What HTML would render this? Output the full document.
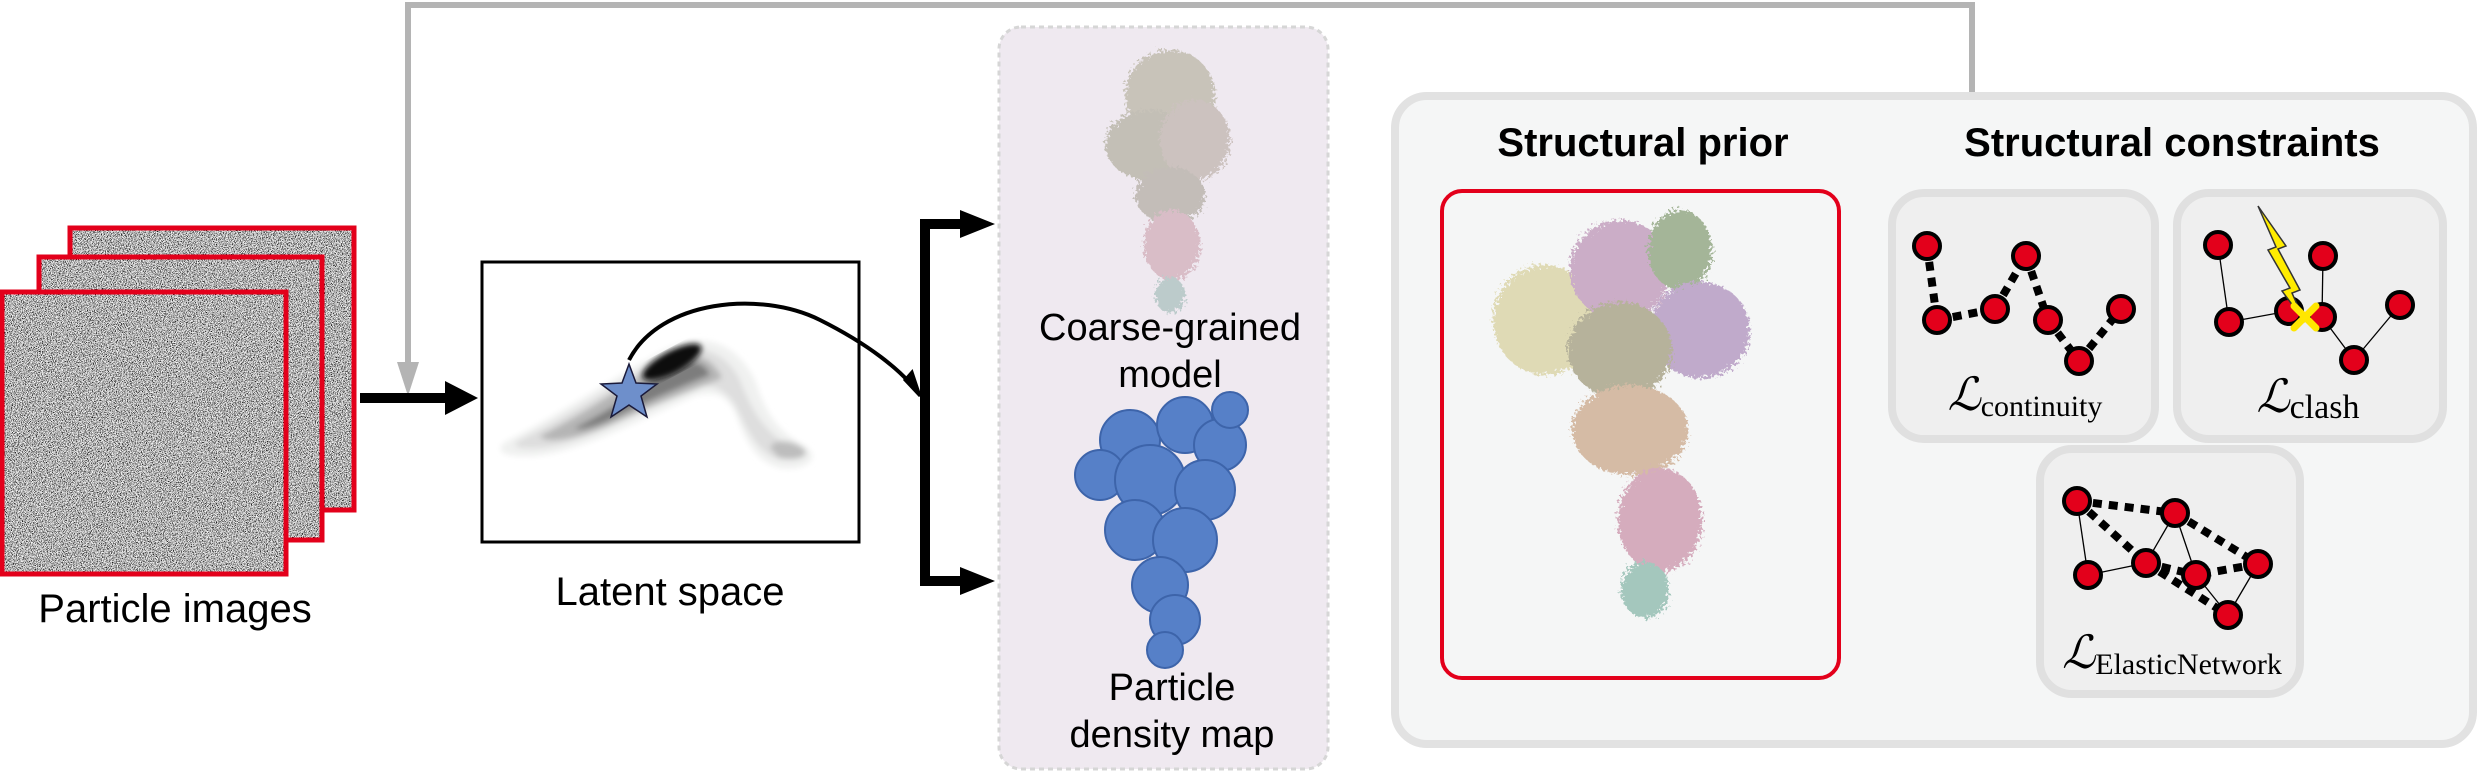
<!DOCTYPE html>
<html><head><meta charset="utf-8"><style>
html,body{margin:0;padding:0;background:#fff;}
svg{display:block;}
.sans{font-family:"Liberation Sans",Arial,sans-serif;}
.serif{font-family:"Liberation Serif","DejaVu Serif",serif;}
</style></head><body>
<svg id="fig" width="2479" height="772" viewBox="0 0 2479 772" xmlns="http://www.w3.org/2000/svg">
<defs>
<filter id="noise" x="0" y="0" width="100%" height="100%">
<feTurbulence type="fractalNoise" baseFrequency="1.2" numOctaves="2" seed="3"/>
<feColorMatrix type="matrix" values="1 0 0 0 0  1 0 0 0 0  1 0 0 0 0  0 0 0 0 1"/>
<feComponentTransfer><feFuncR type="linear" slope="3.2" intercept="-1.08"/><feFuncG type="linear" slope="3.2" intercept="-1.08"/><feFuncB type="linear" slope="3.2" intercept="-1.08"/></feComponentTransfer>
</filter>
<filter id="blur8"><feGaussianBlur stdDeviation="8"/></filter>
<filter id="blur3"><feGaussianBlur stdDeviation="3"/></filter>
<filter id="rough"><feTurbulence type="fractalNoise" baseFrequency="0.35" numOctaves="3" seed="5" result="t"/><feDisplacementMap in="SourceGraphic" in2="t" scale="14"/></filter>
</defs>

<polyline points="1972,92 1972,5 408,5 408,375" fill="none" stroke="#b4b4b4" stroke-width="6"/>
<path d="M397,362 L419,362 L408,396 Z" fill="#b4b4b4"/>

<g>
<rect x="70" y="228" width="284" height="282" fill="#888" filter="url(#noise)"/>
<rect x="70" y="228" width="284" height="282" fill="none" stroke="#e3001b" stroke-width="5"/>
<rect x="39" y="257" width="283" height="283" fill="#888" filter="url(#noise)"/>
<rect x="39" y="257" width="283" height="283" fill="none" stroke="#e3001b" stroke-width="5"/>
<rect x="2" y="292" width="284" height="282" fill="#888" filter="url(#noise)"/>
<rect x="2" y="292" width="284" height="282" fill="none" stroke="#e3001b" stroke-width="5"/>
</g>
<text class="sans" x="175" y="622" font-size="40" text-anchor="middle">Particle images</text>

<rect x="360" y="393" width="90" height="10" fill="#000"/>
<path d="M445,381 L478,398 L445,415 Z" fill="#000"/>

<rect x="482" y="262" width="377" height="280" fill="#fff" stroke="#000" stroke-width="3"/>
<g filter="url(#blur3)">
<path d="M505,442 C550,420 610,380 660,352 C700,330 735,340 755,380 C765,410 775,430 805,446 C825,460 800,472 780,468 C755,462 745,440 735,412 C725,395 715,390 695,396 C640,420 580,452 535,456 C500,458 495,450 505,442 Z" fill="#f0f1f0"/>
<path d="M520,440 C560,420 615,385 660,358 C695,340 725,350 740,380 C748,400 760,430 790,446 C805,456 790,462 775,458 C755,450 745,425 735,405 C722,385 705,382 685,390 C630,418 575,446 540,448 C515,450 510,445 520,440 Z" fill="#dedede"/>
<path d="M540,436 C580,416 625,385 662,362 C690,348 712,356 722,378 C700,388 660,402 610,425 C575,440 545,444 540,436 Z" fill="#b5b5b5"/>
<path d="M575,428 C610,410 640,390 665,370 C690,356 705,362 710,375 C690,383 650,400 620,415 C600,425 580,432 575,428 Z" fill="#7d7d7d"/>
<path d="M770,447 C775,438 795,440 805,450 C810,458 790,462 778,457 Z" fill="#bdbdbd"/>
</g>
<ellipse cx="672" cy="362" rx="33" ry="11" transform="rotate(-28 672 362)" fill="#111" filter="url(#blur3)"/>
<path d="M629,360 C660,300 760,290 820,320 C870,345 900,370 916,390" fill="none" stroke="#000" stroke-width="4"/>
<path d="M905,380 L920,396 L912,372 Z" fill="#000" stroke="#000" stroke-width="3"/>
<polygon points="629,364 636,383 657,384 641,396 647,417 629,405 611,417 617,396 601,384 622,383" fill="#6e8fcb" stroke="#1a1a3a" stroke-width="1.5"/>
<text class="sans" x="670" y="605" font-size="40" text-anchor="middle">Latent space</text>

<path d="M962,224 L925,224 L925,581 L962,581" fill="none" stroke="#000" stroke-width="10"/>
<path d="M960,210 L995,224 L960,238 Z" fill="#000"/>
<path d="M960,567 L995,581 L960,595 Z" fill="#000"/>

<rect x="999" y="27" width="329" height="742" rx="22" fill="#efe9f0" stroke="#d6d6d6" stroke-width="3" stroke-dasharray="5,4"/>
<g filter="url(#rough)" opacity="0.45">
<ellipse cx="1170" cy="95" rx="45" ry="45" fill="#9a9678"/>
<ellipse cx="1150" cy="145" rx="45" ry="35" fill="#8e8e70"/>
<ellipse cx="1195" cy="140" rx="35" ry="40" fill="#a39384"/>
<ellipse cx="1170" cy="195" rx="35" ry="28" fill="#8f8a76"/>
<ellipse cx="1172" cy="245" rx="28" ry="35" fill="#c08896"/>
<ellipse cx="1170" cy="295" rx="15" ry="18" fill="#80a8a0"/>
</g>
<text class="sans" font-size="38" text-anchor="middle"><tspan x="1170" y="340">Coarse-grained</tspan><tspan x="1170" y="387">model</tspan></text>
<g fill="#5680c8" stroke="#3d64aa" stroke-width="2">
<circle cx="1130" cy="440" r="30"/><circle cx="1185" cy="425" r="28"/><circle cx="1220" cy="445" r="26"/>
<circle cx="1100" cy="475" r="25"/><circle cx="1150" cy="480" r="35"/><circle cx="1205" cy="490" r="30"/>
<circle cx="1135" cy="530" r="30"/><circle cx="1185" cy="540" r="32"/><circle cx="1160" cy="585" r="28"/>
<circle cx="1175" cy="620" r="25"/><circle cx="1165" cy="650" r="18"/><circle cx="1230" cy="410" r="18"/>
</g>
<text class="sans" font-size="38" text-anchor="middle"><tspan x="1172" y="700">Particle</tspan><tspan x="1172" y="747">density map</tspan></text>

<rect x="1395" y="96" width="1078" height="648" rx="32" fill="#f5f6f6" stroke="#e2e2e2" stroke-width="8"/>
<text class="sans" x="1643" y="156" font-size="40" font-weight="bold" text-anchor="middle">Structural prior</text>
<text class="sans" x="2172" y="156" font-size="40" font-weight="bold" text-anchor="middle">Structural constraints</text>
<rect x="1442" y="191" width="397" height="487" rx="20" fill="#f5f6f6" stroke="#e3001b" stroke-width="4"/>
<g filter="url(#rough)" opacity="0.6">
<ellipse cx="1545" cy="320" rx="52" ry="55" fill="#d2c98a"/>
<ellipse cx="1620" cy="270" rx="50" ry="50" fill="#b07ea8"/>
<ellipse cx="1680" cy="250" rx="32" ry="40" fill="#6f8a5a"/>
<ellipse cx="1700" cy="330" rx="50" ry="48" fill="#9d78b0"/>
<ellipse cx="1620" cy="350" rx="52" ry="48" fill="#8d8660"/>
<ellipse cx="1630" cy="430" rx="58" ry="45" fill="#c09570"/>
<ellipse cx="1660" cy="520" rx="42" ry="52" fill="#c07c98"/>
<ellipse cx="1645" cy="590" rx="24" ry="28" fill="#70a898"/>
</g>
<g id="graphs"></g>
<text class="serif" x="2025" y="410" font-size="40" text-anchor="middle"><tspan font-style="italic" font-size="46">ℒ</tspan><tspan font-size="30" dy="6">continuity</tspan></text>
<text class="serif" x="2308" y="412" font-size="40" text-anchor="middle"><tspan font-style="italic" font-size="46">ℒ</tspan><tspan font-size="34" dy="6">clash</tspan></text>
<text class="serif" x="2172" y="668" font-size="40" text-anchor="middle"><tspan font-style="italic" font-size="46">ℒ</tspan><tspan font-size="30" dy="6">ElasticNetwork</tspan></text>
</svg>
<script>
const panels = [[1892,193,263,246,'continuity-panel'],[2177,193,266,246,'clash-panel'],[2040,449,260,245,'elastic-network-panel']];
const contNodes = [[1927,246],[1937,320],[1995,309],[2026,256],[2048,320],[2079,361],[2121,309]];
const contDashed = [[0,1],[1,2],[2,3],[3,4],[4,5],[5,6]];
const clashNodes = [[2218,245],[2323,256],[2229,322],[2289,311],[2322,317],[2400,305],[2354,360]];
const clashThin = [[0,2],[2,3],[1,4],[4,6],[6,5]];
const elNodes = [[2077,501],[2175,513],[2258,564],[2088,575],[2146,563],[2196,575],[2228,615]];
const elThin = [[0,3],[3,4],[4,1],[1,5],[5,6],[6,2]];
const elDashed = [[0,1],[0,4],[1,2],[2,5],[4,5],[4,6]];
const NS='http://www.w3.org/2000/svg';
const g=document.getElementById('graphs');
function mk(tag,attrs){const e=document.createElementNS(NS,tag);for(const k in attrs)e.setAttribute(k,attrs[k]);g.appendChild(e);return e;}
panels.forEach(p=>{
  const r=mk('rect',{x:p[0],y:p[1],width:p[2],height:p[3],rx:32,fill:'#efefef',stroke:'#e0e0e0','stroke-width':8});
  
  
});
function edges(nodes,list,dashed,name){
  list.forEach(e=>{
    const a=nodes[e[0]],b=nodes[e[1]];
    const l=mk('line',{x1:a[0],y1:a[1],x2:b[0],y2:b[1],stroke:'#000','stroke-width':dashed?8:1.3,'stroke-dasharray':dashed?'9,7':'none'});
    
    
  });
}
function nodesDraw(nodes,name){
  nodes.forEach(n=>{
    const c=mk('circle',{cx:n[0],cy:n[1],r:13,fill:'#e3001b',stroke:'#000','stroke-width':4});
    
    
  });
}
edges(contNodes,contDashed,true,'continuity-bond');
nodesDraw(contNodes,'continuity-node');
edges(clashNodes,clashThin,false,'clash-bond');
nodesDraw(clashNodes,'clash-node');
const bolt=mk('path',{d:'M2258,206 L2286,246 L2278,249 L2300,290 L2292,293 L2305,322 L2282,291 L2290,288 L2268,250 L2276,247 Z',fill:'#ffec00',stroke:'#333','stroke-width':1.5});


const xm=mk('path',{d:'M2294,306 L2316,328 M2316,306 L2294,328',stroke:'#ffe600','stroke-width':7,'stroke-linecap':'round'});


edges(elNodes,elThin,false,'elastic-thin-bond');
edges(elNodes,elDashed,true,'elastic-dashed-bond');
nodesDraw(elNodes,'elastic-node');
</script>
</body></html>
